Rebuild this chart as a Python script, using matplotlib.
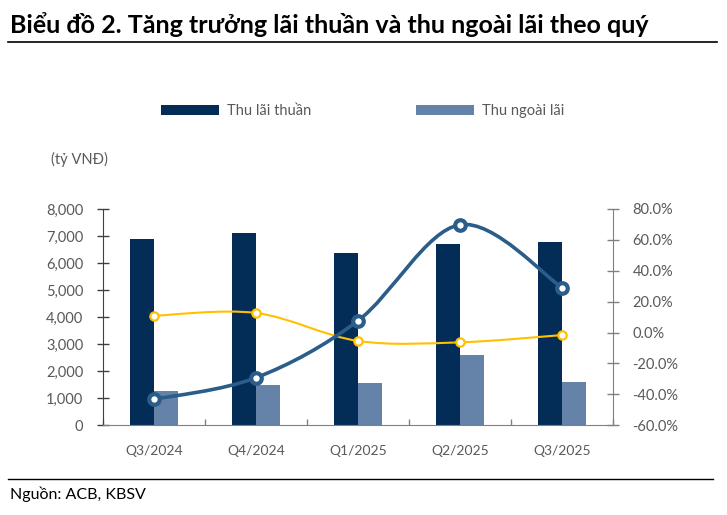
import numpy as np
import matplotlib
matplotlib.use("Agg")
import matplotlib.pyplot as plt
from matplotlib.path import Path
from matplotlib.patches import PathPatch

quarters = ["Q3/2024", "Q4/2024", "Q1/2025", "Q2/2025", "Q3/2025"]
thu_lai_thuan = [6880, 7100, 6370, 6690, 6780]
thu_ngoai_lai = [1260, 1480, 1560, 2610, 1600]
tang_truong_lai = [-43.2, -29.2, 7.7, 69.8, 29.1]      # % yoy, blue line
tang_truong_ngoai_lai = [10.9, 12.7, -5.4, -6.3, -1.6]  # % yoy, yellow line

plt.rcParams['font.family'] = ['Lato', 'DejaVu Sans']

navy = "#032c57"
steel = "#6582a8"
blue_line = "#2b5d8a"
yellow = "#ffc000"
grey_txt = "#595959"


def smooth_path(xs, ys):
    # excel-like smoothed line: catmull-rom segments as cubic beziers
    pts = np.column_stack([xs, ys]).astype(float)
    verts = [pts[0]]
    codes = [Path.MOVETO]
    n = len(pts)
    for i in range(n - 1):
        p0 = pts[i - 1] if i > 0 else pts[i]
        p1 = pts[i]
        p2 = pts[i + 1]
        p3 = pts[i + 2] if i + 2 < n else pts[i + 1]
        c1 = p1 + (p2 - p0) / 6.0
        c2 = p2 - (p3 - p1) / 6.0
        verts += [c1, c2, p2]
        codes += [Path.CURVE4] * 3
    return Path(verts, codes)


fig = plt.figure(figsize=(7.27, 5.15), dpi=100)
ax = fig.add_axes([0.1417, 0.1742, 0.7015, 0.42])
ax2 = ax.twinx()

x = np.arange(len(quarters))
w = 0.235
ax.bar(x - w / 2, thu_lai_thuan, width=w, color=navy, label="Thu lãi thuần", zorder=2)
ax.bar(x + w / 2, thu_ngoai_lai, width=w, color=steel, label="Thu ngoài lãi", zorder=2)

ax.set_xlim(-0.5, len(quarters) - 0.5)
ax.set_ylim(0, 8000)
ax.set_yticks(np.arange(0, 8001, 1000))
ax.set_yticklabels([f"{v:,}" for v in range(0, 8001, 1000)])
ax.set_xticks(x)
ax.set_xticklabels(quarters)
ax.set_xticks(np.arange(-0.5, len(quarters) - 0.4, 1.0), minor=True)
ax.tick_params(axis='x', which='major', length=0, pad=14, labelsize=10, labelcolor=grey_txt)
ax.tick_params(axis='x', which='minor', direction='in', length=4, color="#808080", width=1)
ax.tick_params(axis='y', direction='inout', length=8.5, color="#404040", width=1,
               labelsize=10.5, labelcolor=grey_txt, pad=10)

ax2.set_ylim(-60, 80)
ax2.set_yticks(np.arange(-60, 81, 20))
ax2.set_yticklabels([f"{v:.1f}%" for v in range(-60, 81, 20)])
ax2.tick_params(axis='y', direction='inout', length=8, color="#808080", width=1,
                labelsize=10.5, labelcolor=grey_txt, pad=10)

for a in (ax, ax2):
    a.spines['top'].set_visible(False)
ax.spines['left'].set_color("#404040")
ax.spines['bottom'].set_color("#808080")
ax.spines['right'].set_visible(False)
ax2.spines['left'].set_visible(False)
ax2.spines['bottom'].set_visible(False)
ax2.spines['right'].set_color("#808080")

ax2.add_patch(PathPatch(smooth_path(x, tang_truong_ngoai_lai), facecolor='none',
                        edgecolor=yellow, lw=1.5, zorder=3))
ax2.plot(x, tang_truong_ngoai_lai, ls='none', marker='o', ms=6, mew=1.6,
         mfc='white', mec=yellow, zorder=4)
ax2.add_patch(PathPatch(smooth_path(x, tang_truong_lai), facecolor='none',
                        edgecolor=blue_line, lw=2.6, zorder=5))
ax2.plot(x, tang_truong_lai, ls='none', marker='o', ms=7.6, mew=3.0,
         mfc='white', mec=blue_line, zorder=6)

fig.legend(*ax.get_legend_handles_labels(), loc='center', bbox_to_anchor=(0.4986, 0.7845),
           ncol=2, frameon=False, handlelength=4.0, handleheight=0.65, columnspacing=7.2,
           handletextpad=0.5, prop={'size': 10.5}, labelcolor=grey_txt)

fig.text(0.07, 0.69, "(tỷ VNĐ)", fontsize=10.5, color=grey_txt, ha='left', va='center')

fig.text(0.014, 0.952, "Biểu đồ 2. Tăng trưởng lãi thuần và thu ngoài lãi theo quý",
         fontsize=18, fontweight='bold', color='black', ha='left', va='center')
fig.add_artist(plt.Line2D([0.011, 0.986], [0.918, 0.918], color='black', lw=1.2))
fig.add_artist(plt.Line2D([0.011, 0.981], [0.069, 0.069], color='black', lw=1.0))
fig.text(0.014, 0.04, "Nguồn: ACB, KBSV", fontsize=11.5, color='black', ha='left', va='center')

fig.savefig("out.png", dpi=100)
